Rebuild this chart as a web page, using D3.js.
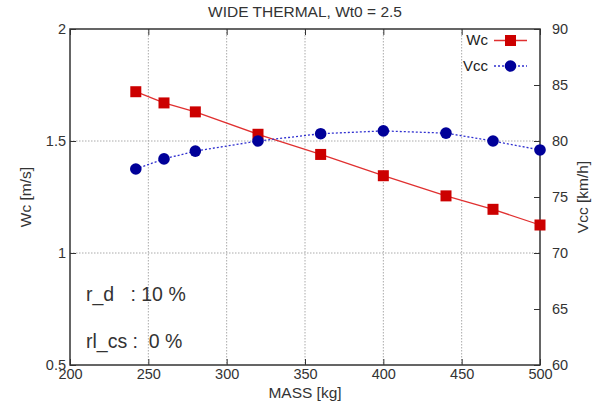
<!DOCTYPE html>
<html>
<head>
<meta charset="utf-8">
<script src="https://cdn.jsdelivr.net/npm/d3@7"></script>
<style>
  body { margin: 0; background: #fff; }
  svg { font-family: "Liberation Sans", Arial, sans-serif; }
</style>
</head>
<body>
<div id="chart"></div>
<script>
// data
const mass = [242, 260, 280, 320, 360, 400, 440, 470, 500];
const wc = [1.72, 1.67, 1.63, 1.53, 1.44, 1.345, 1.255, 1.195, 1.125];
const vcc = [77.5, 78.4, 79.1, 80.0, 80.65, 80.9, 80.7, 80.0, 79.2];
const xTicks = [200, 250, 300, 350, 400, 450, 500];
const wcTicks = [0.5, 1, 1.5, 2];
const vccTicks = [60, 65, 70, 75, 80, 85, 90];

const width = 599, height = 408;
const m = {left: 70, right: 59, top: 29, bottom: 43};

let svg = d3.select('#chart').append('svg')
    .attr('width', width)
    .attr('height', height);

let x = d3.scaleLinear().domain([200, 500]).range([m.left, width - m.right]);
let yL = d3.scaleLinear().domain([0.5, 2]).range([height - m.bottom, m.top]);
let yR = d3.scaleLinear().domain([60, 90]).range([height - m.bottom, m.top]);

// grid
let grid = svg.append('g').attr('stroke', '#aaa').attr('stroke-width', 1).attr('stroke-dasharray', '1.5,1.5');
grid.selectAll('.gx').data(xTicks.slice(1, -1)).enter().append('line')
    .attr('x1', d => x(d)).attr('x2', d => x(d))
    .attr('y1', m.top).attr('y2', height - m.bottom);
grid.selectAll('.gy').data(wcTicks.slice(1, -1)).enter().append('line')
    .attr('y1', d => yL(d)).attr('y2', d => yL(d))
    .attr('x1', m.left).attr('x2', width - m.right);

// axes, ticks inward
const tickStyle = function(g) {
    g.select('.domain').remove();
    g.selectAll('line').attr('stroke', '#333');
    g.selectAll('text').attr('fill', '#333').style('font-size', '14.5px');
};
svg.append('g').attr('transform', 'translate(0,' + (height - m.bottom) + ')')
    .call(d3.axisBottom(x).tickValues(xTicks).tickSize(-6).tickPadding(4))
    .call(tickStyle);
svg.append('g').attr('transform', 'translate(0,' + m.top + ')')
    .call(d3.axisTop(x).tickValues(xTicks).tickSize(-6).tickFormat(''))
    .call(tickStyle);
svg.append('g').attr('transform', 'translate(' + m.left + ',0)')
    .call(d3.axisLeft(yL).tickValues(wcTicks).tickSize(-6).tickPadding(4).tickFormat(d3.format('')))
    .call(tickStyle);
svg.append('g').attr('transform', 'translate(' + (width - m.right) + ',0)')
    .call(d3.axisRight(yR).tickValues(vccTicks).tickSize(-6).tickPadding(12))
    .call(tickStyle);

svg.append('rect')
    .attr('x', m.left).attr('y', m.top)
    .attr('width', width - m.left - m.right)
    .attr('height', height - m.top - m.bottom)
    .attr('fill', 'none').attr('stroke', '#333').attr('stroke-width', 1.5);

// series
let wcPts = mass.map((d, i) => [d, wc[i]]);
let vccPts = mass.map((d, i) => [d, vcc[i]]);

svg.append('path').datum(wcPts)
    .attr('d', d3.line().x(d => x(d[0])).y(d => yL(d[1])))
    .attr('fill', 'none').attr('stroke', '#e03030').attr('stroke-width', 1.3);
svg.append('path').datum(vccPts)
    .attr('d', d3.line().x(d => x(d[0])).y(d => yR(d[1])))
    .attr('fill', 'none').attr('stroke', '#3030d0').attr('stroke-width', 1.3)
    .attr('stroke-dasharray', '2,2');

svg.selectAll('.sq').data(wcPts).enter().append('rect')
    .attr('x', d => x(d[0]) - 5.5).attr('y', d => yL(d[1]) - 5.5)
    .attr('width', 11).attr('height', 11)
    .attr('fill', '#cc0000');
svg.selectAll('.ci').data(vccPts).enter().append('circle')
    .attr('cx', d => x(d[0])).attr('cy', d => yR(d[1]))
    .attr('r', 5.8)
    .attr('fill', '#000099');

// legend
let leg = svg.append('g').style('font-size', '15px').attr('fill', '#222');
leg.append('text').attr('x', 488).attr('y', 45).attr('text-anchor', 'end').text('Wc');
leg.append('line').attr('x1', 494).attr('x2', 527).attr('y1', 40.5).attr('y2', 40.5)
    .attr('stroke', '#e03030').attr('stroke-width', 1.3);
leg.append('rect').attr('x', 505).attr('y', 35).attr('width', 11).attr('height', 11).attr('fill', '#cc0000');
leg.append('text').attr('x', 488).attr('y', 71).attr('text-anchor', 'end').text('Vcc');
leg.append('line').attr('x1', 494).attr('x2', 527).attr('y1', 66).attr('y2', 66)
    .attr('stroke', '#3030d0').attr('stroke-width', 1.3).attr('stroke-dasharray', '2,2');
leg.append('circle').attr('cx', 510.5).attr('cy', 66).attr('r', 5.8).attr('fill', '#000099');

// labels
svg.append('text').attr('x', 305).attr('y', 17).attr('text-anchor', 'middle')
    .style('font-size', '15.5px').attr('fill', '#333').text('WIDE THERMAL, Wt0 = 2.5');
svg.append('text').attr('x', 305).attr('y', 398).attr('text-anchor', 'middle')
    .style('font-size', '15.5px').attr('fill', '#333').text('MASS [kg]');
svg.append('text').attr('transform', 'translate(31,197) rotate(-90)').attr('text-anchor', 'middle')
    .style('font-size', '15.5px').attr('fill', '#333').text('Wc [m/s]');
svg.append('text').attr('transform', 'translate(588,197) rotate(-90)').attr('text-anchor', 'middle')
    .style('font-size', '15.5px').attr('fill', '#333').text('Vcc [km/h]');

svg.append('text').attr('x', 86).attr('y', 301).style('font-size', '19.5px').attr('fill', '#333')
    .attr('xml:space', 'preserve').text('r_d   : 10 %');
svg.append('text').attr('x', 86).attr('y', 348).style('font-size', '19.5px').attr('fill', '#333')
    .attr('xml:space', 'preserve').text('rl_cs :  0 %');
</script>
</body>
</html>
